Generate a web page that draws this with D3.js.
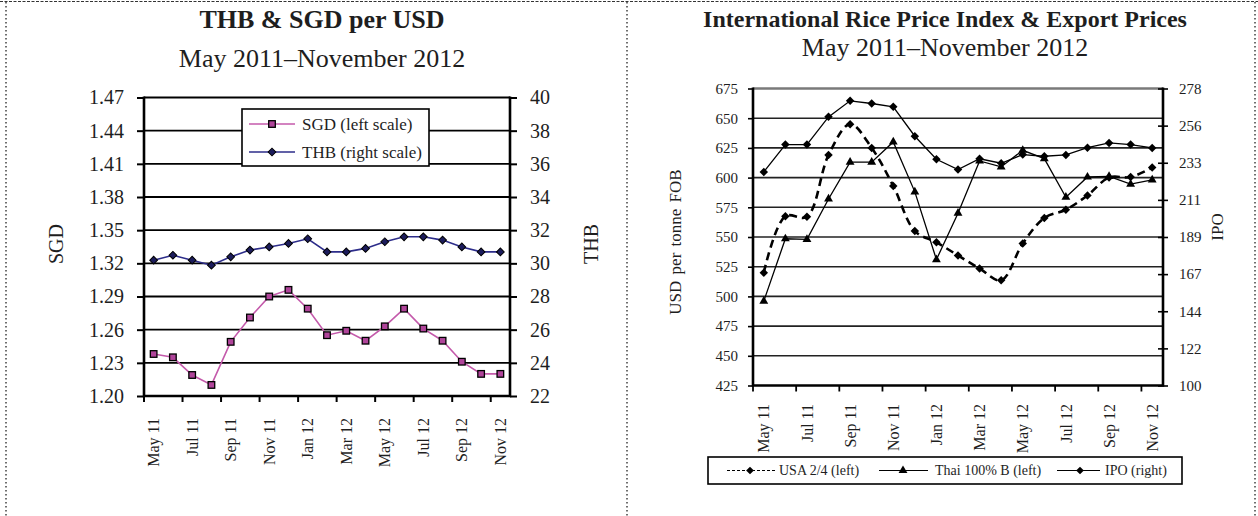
<!DOCTYPE html>
<html>
<head>
<meta charset="utf-8">
<script src="https://cdn.jsdelivr.net/npm/d3@7/dist/d3.min.js"></script>
<style>
  html, body { margin: 0; padding: 0; background: #fff; }
  svg { display: block; font-family: "Liberation Serif", "Times New Roman", serif; }
</style>
</head>
<body>
<svg id="chart" width="1258" height="516"></svg>
<script>
// ---- data ----
const months = ["May 11","Jun 11","Jul 11","Aug 11","Sep 11","Oct 11","Nov 11","Dec 11",
                "Jan 12","Feb 12","Mar 12","Apr 12","May 12","Jun 12","Jul 12","Aug 12",
                "Sep 12","Oct 12","Nov 12"];
const xTickLabels = ["May 11","Jul 11","Sep 11","Nov 11","Jan 12","Mar 12","May 12","Jul 12","Sep 12","Nov 12"];

// exchange rates per USD
const sgd = [1.238,1.235,1.219,1.210,1.249,1.271,1.290,1.296,1.279,1.255,1.259,1.250,1.263,1.279,1.261,1.250,1.231,1.220,1.220];
const thb = [30.19,30.49,30.19,29.89,30.39,30.80,30.99,31.20,31.48,30.69,30.69,30.90,31.30,31.60,31.60,31.40,30.99,30.69,30.69];

// rice export prices (USD per tonne FOB) and price index
const usa  = [520,567.5,567,619,645,625,593,555,545.5,534.5,523.5,513.5,544.5,566,573,585,600,600.5,608.5];
const thai = [496,548.5,548,582,613,613,630,588,531,570,614,609,623,616,583.5,600.5,601,594.5,598];
const ipo  = [228.0,244.4,244.4,261.0,270.6,269.0,267.0,249.4,235.6,229.4,235.9,233.2,238.4,237.4,238.2,242.5,245.4,244.4,242.4];

const sgdTicks = [1.20,1.23,1.26,1.29,1.32,1.35,1.38,1.41,1.44,1.47];
const thbTicks = [22,24,26,28,30,32,34,36,38,40];
const usdTicks = [425,450,475,500,525,550,575,600,625,650,675];
const ipoTickLabels = ["100","122","144","167","189","211","233","256","278"];

const svg = d3.select("#chart");
const ink = "#1e1e1e";

// ---- page frame ----
svg.append("line").attr("x1", 0).attr("x2", 1258).attr("y1", 1.5).attr("y2", 1.5)
  .attr("stroke", "#333").attr("stroke-width", 1.2).attr("stroke-dasharray", "3,1.5");
[6, 627, 1255].forEach(x => {
  svg.append("line").attr("x1", x).attr("x2", x).attr("y1", 2).attr("y2", 516)
    .attr("stroke", "#333").attr("stroke-width", 1.4).attr("stroke-dasharray", "1.4,2.6");
});

const diamond = s => d3.symbol().type(d3.symbolSquare).size(s)();

// axis text styling shared by all axes
const styleAxis = (g, size, tickWidth) => {
  g.attr("font-family", null).attr("font-size", null);
  g.select(".domain").remove();
  g.selectAll("line").attr("stroke", "#000").attr("stroke-width", tickWidth);
  g.selectAll("text").attr("font-size", size).attr("fill", ink);
};

// =========================== THB & SGD ===========================
const L = { left: 144, right: 510, top: 97.5, bottom: 396 };
const xL = d3.scaleBand().domain(months).range([L.left, L.right]);
const ySGD = d3.scaleLinear().domain([1.20, 1.47]).range([L.bottom, L.top]);
const yTHB = d3.scaleLinear().domain([22, 40]).range([L.bottom, L.top]);
const cxL = i => xL(months[i]) + xL.bandwidth() / 2;
const gL = svg.append("g");

gL.append("text").attr("x", 322).attr("y", 28).attr("text-anchor", "middle")
  .attr("font-size", 26).attr("font-weight", "bold").attr("fill", ink).text("THB & SGD per USD");
gL.append("text").attr("x", 322).attr("y", 67).attr("text-anchor", "middle")
  .attr("font-size", 26).attr("fill", ink).text("May 2011–November 2012");

// gridlines
gL.append("g").selectAll("line").data(sgdTicks.slice(1)).join("line")
  .attr("x1", L.left).attr("x2", L.right)
  .attr("y1", d => ySGD(d)).attr("y2", d => ySGD(d))
  .attr("stroke", "#000").attr("stroke-width", 1.8);

// left axis (SGD)
gL.append("g").attr("transform", `translate(${L.left},0)`)
  .call(d3.axisLeft(ySGD).tickValues(sgdTicks).tickFormat(d3.format(".2f")).tickSize(7).tickPadding(13))
  .call(g => styleAxis(g, 20, 2));

// right axis (THB)
gL.append("g").attr("transform", `translate(${L.right},0)`)
  .call(d3.axisRight(yTHB).tickValues(thbTicks).tickSize(7).tickPadding(13))
  .call(g => styleAxis(g, 20, 2));

// category labels
gL.append("g").attr("transform", `translate(0,${L.bottom})`)
  .call(d3.axisBottom(xL).tickValues(xTickLabels).tickSize(0))
  .call(g => styleAxis(g, 16, 0))
  .call(g => g.selectAll("text")
    .attr("transform", "rotate(-90)").attr("text-anchor", "end")
    .attr("x", -22).attr("y", 0).attr("dy", "0.35em"));

// category tick marks
gL.append("g").selectAll("line").data(d3.range(0, months.length, 2)).join("line")
  .attr("x1", k => xL(months[k])).attr("x2", k => xL(months[k]))
  .attr("y1", L.bottom).attr("y2", L.bottom + 6)
  .attr("stroke", "#000").attr("stroke-width", 2);

// axis lines
gL.append("path")
  .attr("d", `M${L.left},${L.top - 1}V${L.bottom}H${L.right}V${L.top - 1}`)
  .attr("fill", "none").attr("stroke", "#000").attr("stroke-width", 2.6);

gL.append("text").attr("transform", "translate(56,244) rotate(-90)").attr("text-anchor", "middle")
  .attr("dy", "0.35em").attr("font-size", 20).attr("fill", ink).text("SGD");
gL.append("text").attr("transform", "translate(591,244) rotate(-90)").attr("text-anchor", "middle")
  .attr("dy", "0.35em").attr("font-size", 20).attr("fill", ink).text("THB");

// series
const sgdLine = "#c45aab", sgdFill = "#b0449a";
const thbLine = "#2d2d8a", thbFill = "#1c1c5c";

gL.append("path").attr("d", d3.line().x((d, i) => cxL(i)).y(d => yTHB(d))(thb))
  .attr("fill", "none").attr("stroke", thbLine).attr("stroke-width", 1.6);
gL.append("g").selectAll("path").data(thb).join("path")
  .attr("d", diamond(30))
  .attr("transform", (d, i) => `translate(${cxL(i)},${yTHB(d)}) rotate(45)`)
  .attr("fill", thbFill).attr("stroke", "#000").attr("stroke-width", 1);

gL.append("path").attr("d", d3.line().x((d, i) => cxL(i)).y(d => ySGD(d))(sgd))
  .attr("fill", "none").attr("stroke", sgdLine).attr("stroke-width", 1.6);
gL.append("g").selectAll("rect").data(sgd).join("rect")
  .attr("x", (d, i) => cxL(i) - 3.3).attr("y", d => ySGD(d) - 3.3)
  .attr("width", 6.6).attr("height", 6.6)
  .attr("fill", sgdFill).attr("stroke", "#000").attr("stroke-width", 1.3);

// legend
const lgL = gL.append("g");
lgL.append("rect").attr("x", 242).attr("y", 109).attr("width", 187).attr("height", 57)
  .attr("fill", "#fff").attr("stroke", "#000").attr("stroke-width", 1.6);
const lgRows = [
  { label: "SGD (left scale)", y: 124, color: sgdLine, kind: "square" },
  { label: "THB (right scale)", y: 152, color: thbLine, kind: "diamond" }
];
lgRows.forEach(r => {
  lgL.append("line").attr("x1", 249).attr("x2", 295).attr("y1", r.y).attr("y2", r.y)
    .attr("stroke", r.color).attr("stroke-width", 1.6);
  if (r.kind === "square") {
    lgL.append("rect").attr("x", 268.7).attr("y", r.y - 3.3).attr("width", 6.6).attr("height", 6.6)
      .attr("fill", sgdFill).attr("stroke", "#000").attr("stroke-width", 1.3);
  } else {
    lgL.append("path").attr("d", diamond(30)).attr("transform", `translate(272,${r.y}) rotate(45)`)
      .attr("fill", thbFill).attr("stroke", "#000").attr("stroke-width", 1);
  }
  lgL.append("text").attr("x", 302).attr("y", r.y).attr("dy", "0.35em")
    .attr("font-size", 17).attr("fill", ink).text(r.label);
});

// =================== Rice price index & export prices ===================
const R = { left: 753, right: 1163, top: 88.5, bottom: 385.5 };
const xR = d3.scaleBand().domain(months).range([R.left, R.right]);
const yUSD = d3.scaleLinear().domain([425, 675]).range([R.bottom, R.top]);
const yIPO = d3.scaleLinear().domain([100, 278]).range([R.bottom, R.top]);
const ipoTickVals = ipoTickLabels.map((d, i) => 100 + i * (278 - 100) / (ipoTickLabels.length - 1));
const cxR = i => xR(months[i]) + xR.bandwidth() / 2;
const gR = svg.append("g");

gR.append("text").attr("x", 945).attr("y", 27).attr("text-anchor", "middle")
  .attr("font-size", 24).attr("font-weight", "bold").attr("fill", ink)
  .text("International Rice Price Index & Export Prices");
gR.append("text").attr("x", 945).attr("y", 56).attr("text-anchor", "middle")
  .attr("font-size", 26).attr("fill", ink).text("May 2011–November 2012");

// gridlines
gR.append("g").selectAll("line").data(usdTicks.slice(1)).join("line")
  .attr("x1", R.left).attr("x2", R.right)
  .attr("y1", d => yUSD(d)).attr("y2", d => yUSD(d))
  .attr("stroke", d => d === 675 ? "#7a7a7a" : "#222")
  .attr("stroke-width", d => d === 675 ? 2.6 : 1.6);

// left axis (USD)
gR.append("g").attr("transform", `translate(${R.left},0)`)
  .call(d3.axisLeft(yUSD).tickValues(usdTicks).tickSize(5).tickPadding(10))
  .call(g => styleAxis(g, 15, 1.6));

// right axis (IPO)
gR.append("g").attr("transform", `translate(${R.right},0)`)
  .call(d3.axisRight(yIPO).tickValues(ipoTickVals).tickFormat((d, i) => ipoTickLabels[i]).tickSize(5).tickPadding(11))
  .call(g => styleAxis(g, 15, 1.6))
  .call(g => g.selectAll("line").attr("x1", -5));

// category labels
gR.append("g").attr("transform", `translate(0,${R.bottom})`)
  .call(d3.axisBottom(xR).tickValues(xTickLabels).tickSize(0))
  .call(g => styleAxis(g, 16, 0))
  .call(g => g.selectAll("text")
    .attr("transform", "rotate(-90)").attr("text-anchor", "end")
    .attr("x", -18.5).attr("y", 0).attr("dy", "0.35em"));

gR.append("g").selectAll("line").data(d3.range(0, months.length, 2)).join("line")
  .attr("x1", k => xR(months[k])).attr("x2", k => xR(months[k]))
  .attr("y1", R.bottom).attr("y2", R.bottom + 6)
  .attr("stroke", "#000").attr("stroke-width", 1.8);

gR.append("path")
  .attr("d", `M${R.left},${R.top - 1}V${R.bottom}H${R.right}V${R.top - 1}`)
  .attr("fill", "none").attr("stroke", "#000").attr("stroke-width", 2.6);

gR.append("text").attr("transform", "translate(675,242) rotate(-90)").attr("text-anchor", "middle")
  .attr("dy", "0.35em").attr("font-size", 17).attr("word-spacing", 2).attr("fill", ink).text("USD per tonne FOB");
gR.append("text").attr("transform", "translate(1217,227) rotate(-90)").attr("text-anchor", "middle")
  .attr("dy", "0.35em").attr("font-size", 17).attr("fill", ink).text("IPO");

// series
const tri = d3.symbol().type(d3.symbolTriangle).size(34)();

gR.append("path").attr("d", d3.line().x((d, i) => cxR(i)).y(d => yUSD(d)).curve(d3.curveCatmullRom.alpha(0.5))(usa))
  .attr("fill", "none").attr("stroke", "#000").attr("stroke-width", 2.6).attr("stroke-dasharray", "8,5");
gR.append("g").selectAll("path").data(usa).join("path")
  .attr("d", diamond(36)).attr("transform", (d, i) => `translate(${cxR(i)},${yUSD(d)}) rotate(45)`)
  .attr("fill", "#000");

gR.append("path").attr("d", d3.line().x((d, i) => cxR(i)).y(d => yUSD(d))(thai))
  .attr("fill", "none").attr("stroke", "#000").attr("stroke-width", 1.3);
gR.append("g").selectAll("path").data(thai).join("path")
  .attr("d", tri).attr("transform", (d, i) => `translate(${cxR(i)},${yUSD(d)})`)
  .attr("fill", "#000");

gR.append("path").attr("d", d3.line().x((d, i) => cxR(i)).y(d => yIPO(d))(ipo))
  .attr("fill", "none").attr("stroke", "#000").attr("stroke-width", 1.3);
gR.append("g").selectAll("path").data(ipo).join("path")
  .attr("d", diamond(36)).attr("transform", (d, i) => `translate(${cxR(i)},${yIPO(d)}) rotate(45)`)
  .attr("fill", "#000");

// legend
const lgR = gR.append("g");
lgR.append("rect").attr("x", 708).attr("y", 457).attr("width", 474).attr("height", 27)
  .attr("fill", "#fff").attr("stroke", "#000").attr("stroke-width", 1.6);
const ly = 470.5;
const lgItems = [
  { label: "USA 2/4 (left)", x1: 727, x2: 775, mx: 750, tx: 779, dash: "3,2", mark: "diamond" },
  { label: "Thai 100% B (left)", x1: 879, x2: 928, mx: 903, tx: 935, dash: null, mark: "triangle" },
  { label: "IPO (right)", x1: 1057, x2: 1100, mx: 1080, tx: 1105, dash: null, mark: "diamond" }
];
lgItems.forEach(it => {
  lgR.append("line").attr("x1", it.x1).attr("x2", it.x2).attr("y1", ly).attr("y2", ly)
    .attr("stroke", "#000").attr("stroke-width", 1.2).attr("stroke-dasharray", it.dash);
  lgR.append("path")
    .attr("d", it.mark === "triangle" ? tri : diamond(30))
    .attr("transform", `translate(${it.mx},${ly})` + (it.mark === "triangle" ? "" : " rotate(45)"))
    .attr("fill", "#000");
  lgR.append("text").attr("x", it.tx).attr("y", ly).attr("dy", "0.35em")
    .attr("font-size", 14).attr("fill", ink).text(it.label);
});
</script>
</body>
</html>
